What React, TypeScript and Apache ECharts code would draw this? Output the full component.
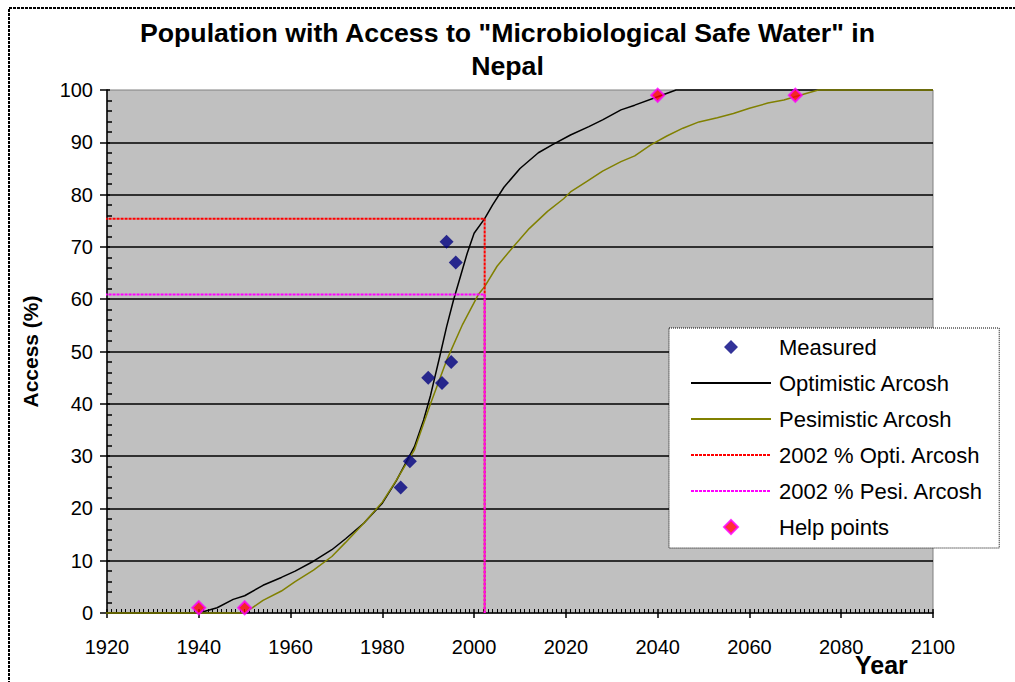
import React, { useEffect, useRef } from "react";
import * as echarts from "echarts";

const titleText = 'Population with Access to "Microbiological Safe Water" in\nNepal';
const xAxisTitle = "Year";
const yAxisTitle = "Access (%)";
const xTicks = { min: 1920, max: 2100, interval: 20 };
const yTicks = { min: 0, max: 100, interval: 10 };

const measuredYears = [1984, 1986, 1990, 1993, 1994, 1995, 1996];
const measuredAccess = [24, 29, 45, 44, 71, 48, 67];

const optYears = [1918.6, 1940, 1944, 1947.5, 1950, 1954, 1958, 1961, 1965, 1969, 1972, 1976, 1980, 1983, 1987, 1989, 1990.5, 1992.5, 1994, 1995.5, 1997, 1998.5, 2000, 2002.3, 2004, 2006.5, 2010, 2014, 2017, 2021, 2025, 2028, 2032, 2035, 2040, 2044, 2100];
const optAccess = [0, 0, 1.0, 2.6, 3.3, 5.3, 6.8, 8.0, 9.9, 12.1, 14.2, 17.2, 21.0, 25.2, 31.8, 36.9, 41.6, 49.0, 54.7, 59.8, 64.3, 68.8, 72.6, 75.4, 78.0, 81.4, 85.0, 88.0, 89.5, 91.4, 93.0, 94.3, 96.2, 97.1, 98.7, 100, 100];

const pesYears = [1918.6, 1950, 1954, 1958, 1961, 1965, 1969, 1972, 1976, 1980, 1983, 1987, 1990.5, 1994, 1997.5, 2001, 2002.3, 2005, 2008.5, 2012, 2016, 2019.5, 2021, 2024.5, 2028, 2032, 2035, 2038.5, 2042, 2045.5, 2049, 2053, 2056.5, 2060, 2064, 2067.5, 2071, 2075, 2100];
const pesAccess = [0, 0, 2.4, 4.2, 6.0, 8.2, 10.8, 13.5, 17.2, 21.2, 25.3, 31.2, 40.0, 48.3, 55.2, 61.0, 62.4, 66.3, 70.0, 73.5, 76.8, 79.2, 80.5, 82.5, 84.5, 86.3, 87.4, 89.5, 91.2, 92.7, 93.9, 94.7, 95.5, 96.5, 97.5, 98.1, 99.0, 100, 100];

const optiLineYears = [1918.6, 2002.3, 2002.3];
const optiLineAccess = [75.4, 75.4, 0];
const pesiLineYears = [1918.6, 2002.3, 2002.3];
const pesiLineAccess = [60.9, 60.9, 0];

const helpYears = [1940, 1950, 2040, 2070];
const helpAccess = [1, 1, 99, 99];

const seriesNames = [
  "Measured",
  "Optimistic Arcosh",
  "Pesimistic Arcosh",
  "2002 % Opti. Arcosh",
  "2002 % Pesi. Arcosh",
  "Help points",
];

const zip = (xs: number[], ys: number[]) => xs.map((x, i) => [x, ys[i]]);

const FONT = "'Liberation Sans', Arial, Helvetica, sans-serif";
const DIAMOND = "path://M40,0 L47,7 L40,14 L33,7 Z M0,7 L0.01,7 M80,7 L79.99,7";

export default function App() {
  const ref = useRef<HTMLDivElement>(null);
  useEffect(() => {
    if (!ref.current) return;
    const chart = echarts.init(ref.current, undefined, { renderer: "svg" });
    const baseX = {
      type: "value",
      min: xTicks.min,
      max: xTicks.max,
      interval: xTicks.interval,
      position: "bottom",
      splitLine: { show: false },
    };
    const baseY = {
      type: "value",
      min: yTicks.min,
      max: yTicks.max,
      interval: yTicks.interval,
      position: "left",
    };
    chart.setOption({
      animation: false,
      backgroundColor: "#fff",
      textStyle: { fontFamily: FONT },
      title: {
        text: titleText,
        left: "center",
        top: 16,
        padding: [0, 0, 0, 10],
        textStyle: { fontFamily: FONT, fontSize: 26.7, fontWeight: "bold", color: "#000", lineHeight: 33 },
      },
      graphic: [
        {
          type: "rect",
          silent: true,
          shape: { x: 9, y: 8, width: 1300, height: 1000 },
          style: { fill: "none", stroke: "#000", lineWidth: 2, lineDash: [3, 1] },
          z: 100,
        },
        {
          type: "text",
          silent: true,
          x: 855,
          y: 665,
          style: {
            text: xAxisTitle,
            font: `bold 25px ${FONT}`,
            fill: "#000",
            textAlign: "left",
            textVerticalAlign: "middle",
          },
          z: 100,
        },
      ],
      grid: {
        left: 107,
        right: 82,
        top: 90,
        bottom: 69,
        show: true,
        backgroundColor: "#C0C0C0",
        borderColor: "#808080",
        borderWidth: 1,
      },
      xAxis: [
        {
          ...baseX,
          axisLine: { show: true, onZero: false, lineStyle: { color: "#000", width: 1.5 } },
          axisTick: { show: true, inside: false, length: 5, lineStyle: { color: "#000", width: 1.5 } },
          axisLabel: {
            fontFamily: FONT,
            fontSize: 20,
            color: "#000",
            margin: 24,
            formatter: (v: number) => String(v),
          },
        },
        {
          ...baseX,
          axisLine: { show: false, onZero: false },
          axisLabel: { show: false },
          axisTick: { show: true, inside: true, length: 4, lineStyle: { color: "#000", width: 1.5 } },
          minorTick: { show: true, splitNumber: 20, length: 4, lineStyle: { color: "#000", width: 1 } },
          minorSplitLine: { show: false },
        },
      ],
      yAxis: [
        {
          ...baseY,
          name: yAxisTitle,
          nameLocation: "middle",
          nameGap: 66,
          nameTextStyle: { fontFamily: FONT, fontSize: 21, fontWeight: "bold", color: "#000" },
          axisLine: { show: true, lineStyle: { color: "#000", width: 1.5 } },
          axisTick: { show: true, inside: false, length: 7, lineStyle: { color: "#000", width: 1.5 } },
          axisLabel: { fontFamily: FONT, fontSize: 20, color: "#000", margin: 14 },
          splitLine: { show: true, showMaxLine: false, showMinLine: false, lineStyle: { color: "#000", width: 1.6 } },
        },
        {
          ...baseY,
          axisLine: { show: false },
          axisLabel: { show: false },
          splitLine: { show: false },
          axisTick: { show: true, inside: true, length: 3, lineStyle: { color: "#000", width: 1.5 } },
          minorTick: { show: true, splitNumber: 5, length: 5, lineStyle: { color: "#000", width: 1.5 } },
          minorSplitLine: { show: false },
        },
      ],
      legend: {
        orient: "vertical",
        left: 669,
        top: 328,
        padding: [8, 16, 10, 21],
        itemWidth: 80,
        itemHeight: 14,
        itemGap: 14,
        symbolKeepAspect: true,
        backgroundColor: "#fff",
        borderColor: "#000",
        borderWidth: 1,
        borderType: "dotted",
        selectedMode: false,
        textStyle: { fontFamily: FONT, fontSize: 22, color: "#000", padding: [0, 0, 0, 3] },
        data: seriesNames.map((n, i) =>
          i === 0 || i === 5
            ? { name: n, icon: DIAMOND }
            : { name: n, itemStyle: { opacity: 0 } }
        ),
      },
      series: [
        {
          name: seriesNames[0],
          type: "scatter",
          symbol: "diamond",
          symbolSize: 14,
          itemStyle: { color: "#000080" },
          data: zip(measuredYears, measuredAccess),
          z: 5,
        },
        {
          name: seriesNames[1],
          type: "line",
          symbol: "none",
          clip: false,
          lineStyle: { color: "#000", width: 1.5 },
          itemStyle: { color: "#000" },
          data: zip(optYears, optAccess),
          z: 3,
        },
        {
          name: seriesNames[2],
          type: "line",
          symbol: "none",
          clip: false,
          lineStyle: { color: "#808000", width: 1.5 },
          itemStyle: { color: "#808000" },
          data: zip(pesYears, pesAccess),
          z: 3,
        },
        {
          name: seriesNames[3],
          type: "line",
          symbol: "none",
          clip: false,
          lineStyle: { color: "#FF0000", width: 2, type: [3, 1] },
          itemStyle: { color: "#FF0000" },
          data: zip(optiLineYears, optiLineAccess),
          z: 3,
        },
        {
          name: seriesNames[4],
          type: "line",
          symbol: "none",
          clip: false,
          lineStyle: { color: "#FF00FF", width: 2, type: [3, 1] },
          itemStyle: { color: "#FF00FF" },
          data: zip(pesiLineYears, pesiLineAccess),
          z: 4,
        },
        {
          name: seriesNames[5],
          type: "scatter",
          symbol: "diamond",
          symbolSize: 13,
          itemStyle: { color: "#FF0000", borderColor: "#FF00FF", borderWidth: 2 },
          data: zip(helpYears, helpAccess),
          z: 6,
        },
      ],
    });
    return () => chart.dispose();
  }, []);
  return (
    <div
      ref={ref}
      style={{ position: "fixed", left: 0, top: 0, width: 1015, height: 682 }}
    />
  );
}
